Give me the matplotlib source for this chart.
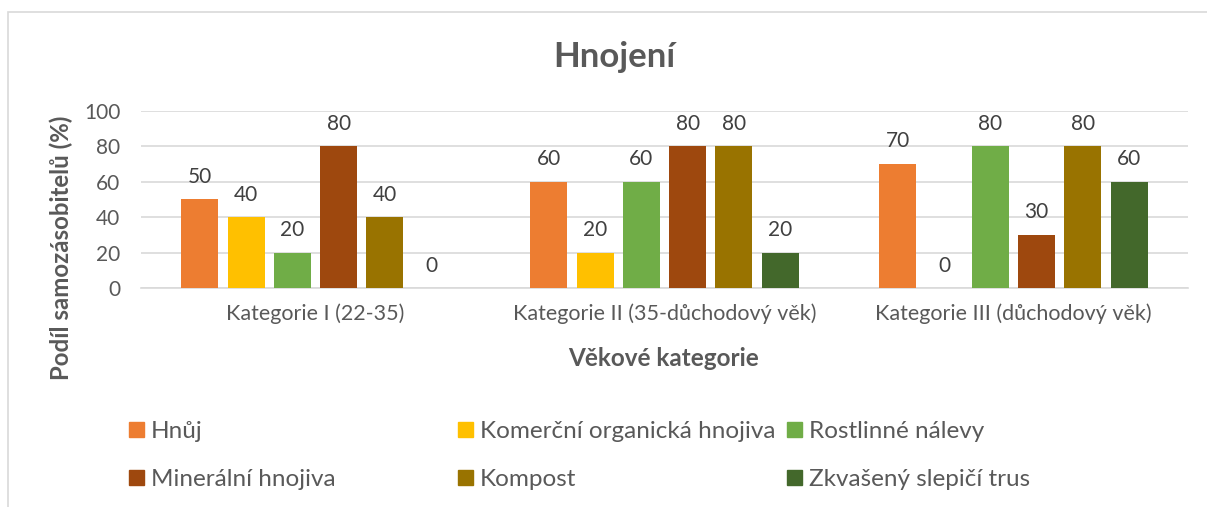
import matplotlib
matplotlib.use("Agg")
import matplotlib.pyplot as plt
from matplotlib.patches import Patch, Rectangle
import numpy as np

plt.rcParams['font.family'] = ['Lato', 'DejaVu Sans']

# data
kategorie = ['Kategorie I (22-35)', 'Kategorie II (35-důchodový věk)', 'Kategorie III (důchodový věk)']
serie = ['Hnůj', 'Komerční organická hnojiva', 'Rostlinné nálevy',
         'Minerální hnojiva', 'Kompost', 'Zkvašený slepičí trus']
hnuj = [50, 60, 70]
komercni = [40, 20, 0]
rostlinne = [20, 60, 80]
mineralni = [80, 80, 30]
kompost = [40, 80, 80]
trus = [0, 20, 60]
barvy = ['#ED7D31', '#FFC000', '#70AD47', '#9E480E', '#997300', '#43682B']

hodnoty = [hnuj, komercni, rostlinne, mineralni, kompost, trus]

W, H = 1207, 507
fig = plt.figure(figsize=(W / 100, H / 100), dpi=100)

# ramecek grafu
fig.patches.append(Rectangle((8 / W, -0.1), 1.2, 1 - 12 / H + 0.1, transform=fig.transFigure,
                             fill=False, edgecolor='#d9d9d9', lw=1.2))

ax = fig.add_axes([141 / W, 1 - 288 / H, (1188 - 141) / W, (288 - 110.7) / H])

x = np.arange(len(kategorie))
krok = 0.1327
sirka = 0.106
for i, (nazev, val) in enumerate(zip(serie, hodnoty)):
    b = ax.bar(x + (i - 2.5) * krok, val, sirka, color=barvy[i], label=nazev, zorder=3)
    ax.bar_label(b, padding=9, fontsize=15, color='#404040')

ax.set_xlim(-0.5, 2.5)
ax.set_ylim(0, 100)
ax.set_yticks(range(0, 101, 20))
ax.set_xticks(x)
ax.set_xticklabels(kategorie, fontsize=15.5)
ax.grid(axis='y', color='#d9d9d9', lw=1.2, zorder=0)
for s in ['top', 'right', 'left']:
    ax.spines[s].set_visible(False)
ax.spines['bottom'].set_color('#d9d9d9')
ax.spines['bottom'].set_linewidth(1.2)
ax.tick_params(axis='both', length=0, labelcolor='#595959')
ax.tick_params(axis='y', pad=15, labelsize=15)
ax.tick_params(axis='x', pad=11)

fig.text(614 / W, 1 - 57 / H, 'Hnojení', ha='center', va='center', fontsize=25,
         fontweight='bold', color='#595959')
fig.text(664 / W, 1 - 358 / H, 'Věkové kategorie', ha='center', va='center', fontsize=17.5,
         fontweight='bold', color='#595959')
fig.text(61 / W, 1 - 248 / H, 'Podíl samozásobitelů (%)', ha='center', va='center', fontsize=17.3,
         fontweight='bold', color='#595959', rotation=90)

# legenda - tri sloupce po dvou radcich
sloupce_x = [129, 458, 787]
for j in range(3):
    h = [Patch(color=barvy[j]), Patch(color=barvy[j + 3])]
    leg = fig.legend(handles=h, labels=[serie[j], serie[j + 3]], loc='center left',
                     bbox_to_anchor=(sloupce_x[j] / W, 1 - 455.5 / H), frameon=False,
                     fontsize=17.5, handlelength=0.62, handleheight=0.62, handletextpad=0.29,
                     labelspacing=1.11, borderpad=0, borderaxespad=0, labelcolor='#595959')

fig.savefig('out.png', dpi=100)
